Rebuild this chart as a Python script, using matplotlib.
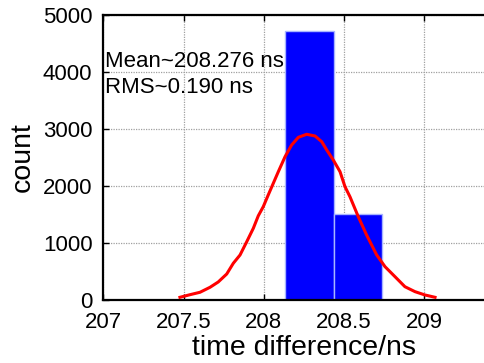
import matplotlib
matplotlib.use("Agg")
import matplotlib.pyplot as plt

plt.rcParams['font.family'] = ['Liberation Sans', 'DejaVu Sans']

# histogram bins (left edges, width) and counts
bin_left = [208.134, 208.436]
bin_width = 0.302
counts = [4720, 1515]

# fitted distribution curve
fit_x = [207.477, 207.540, 207.602, 207.665, 207.716, 207.769, 207.810, 207.852,
         207.894, 207.935, 207.966, 207.997, 208.028, 208.091, 208.133, 208.174,
         208.216, 208.268, 208.320, 208.362, 208.393, 208.434, 208.476, 208.507,
         208.538, 208.590, 208.642, 208.705, 208.757, 208.819, 208.881, 208.944,
         209.006, 209.069]
fit_y = [47, 93, 135, 223, 316, 456, 644, 789,
         1023, 1258, 1477, 1637, 1842, 2251, 2514, 2719,
         2854, 2907, 2877, 2777, 2632, 2456, 2251, 1988,
         1812, 1461, 1140, 789, 584, 409, 233, 146,
         88, 47]

xticks = [207, 207.5, 208, 208.5, 209]
xticklabels = ['207', '207.5', '208', '208.5', '209']
yticks = [0, 1000, 2000, 3000, 4000, 5000]

fig = plt.figure(figsize=(4.85, 3.63), dpi=100)
ax = fig.add_axes([0.2134, 0.1736, 0.826, 0.7851])

ax.bar(bin_left, counts, width=bin_width, align='edge',
       color='#0000ff', edgecolor='#a8b4ff', linewidth=1.0, zorder=2)
ax.plot(fit_x, fit_y, color='#ff0000', linewidth=2.2, zorder=3,
        solid_joinstyle='round')

ax.set_xlim(207, 209.5)
ax.set_ylim(0, 5000)
ax.set_xticks(xticks)
ax.set_xticklabels(xticklabels)
ax.set_yticks(yticks)

ax.grid(True, color='#a0a0a0', linestyle=(0, (1, 1)), linewidth=0.9, zorder=0)
ax.set_axisbelow(True)

ax.tick_params(direction='in', length=4, width=1, top=True, right=True,
               labelsize=16, colors='black')
ax.tick_params(axis='y', pad=8)
ax.tick_params(axis='x', pad=9)
for s in ax.spines.values():
    s.set_linewidth(1.6)

ax.set_xlabel('time difference/ns', fontsize=20.5, labelpad=1)
ax.set_ylabel('count', fontsize=20.5, labelpad=5)

ax.text(207.01, 4190, 'Mean~208.276 ns', fontsize=16, va='center', ha='left', zorder=4)
ax.text(207.01, 3730, 'RMS~0.190 ns', fontsize=16, va='center', ha='left', zorder=4)

fig.savefig('out.png', dpi=100)
